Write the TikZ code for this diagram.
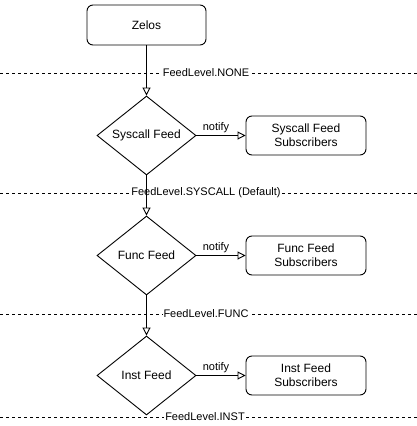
\documentclass[tikz,border=0pt]{standalone}
\usepackage{fontspec}
\setmainfont{Liberation Sans}
\usetikzlibrary{arrows.meta,shapes.geometric}
\begin{document}
\begin{tikzpicture}[x=1pt,y=-1pt,
  box/.style={draw,rounded corners=6pt,minimum width=119pt,minimum height=40pt,align=center,font=\fontsize{12}{14}\selectfont,inner sep=0pt,line width=0.9pt},
  sub/.style={box,minimum width=120pt,minimum height=39pt},
  dia/.style={draw,diamond,aspect=1.25,minimum width=99pt,minimum height=79pt,inner sep=0pt,font=\fontsize{12}{14}\selectfont,line width=0.9pt},
  flow/.style={-{Triangle[open,length=8pt,width=8pt]},line width=0.9pt},
  lvl/.style={dashed,dash pattern=on 3pt off 3pt,line width=0.9pt},
  lvllab/.style={fill=white,inner sep=1pt,font=\fontsize{11}{13}\selectfont},
  notelab/.style={font=\fontsize{11}{13}\selectfont,inner sep=1pt,xshift=-5pt,yshift=1pt}]
\useasboundingbox (0,0) rectangle (417,426);
\node[box] (zelos) at (146.5,25) {Zelos};
\node[dia] (sys) at (146.5,135.5) {Syscall Feed};
\node[dia] (func) at (146.5,255.5) {Func Feed};
\node[dia] (inst) at (146.5,375.5) {Inst Feed};
\node[sub] (syss) at (306,135.5) {Syscall Feed\\Subscribers};
\node[sub] (funcs) at (306,255.5) {Func Feed\\Subscribers};
\node[sub] (insts) at (306,375.5) {Inst Feed\\Subscribers};
\coordinate (l1a) at (0,73); \coordinate (l1b) at (417,73);
\coordinate (l2a) at (0,193); \coordinate (l2b) at (417,193);
\coordinate (l3a) at (0,314); \coordinate (l3b) at (417,314);
\coordinate (l4a) at (0,417); \coordinate (l4b) at (417,417);
\draw[lvl] (l1a) -- (l1b);
\draw[lvl] (l2a) -- (l2b);
\draw[lvl] (l3a) -- (l3b);
\draw[lvl] (l4a) -- (l4b);
\node[lvllab] (n1) at (206,73) {FeedLevel.NONE};
\node[lvllab] (n2) at (206,193) {FeedLevel.SYSCALL (Default)};
\node[lvllab] (n3) at (206,314) {FeedLevel.FUNC};
\node[lvllab] (n4) at (205,417) {FeedLevel.INST};
\draw[flow] (zelos) -- (sys);
\draw[flow] (sys) -- (func);
\draw[flow] (func) -- (inst);
\draw[flow] (sys) -- node[notelab,above] {notify} (syss);
\draw[flow] (func) -- node[notelab,above] {notify} (funcs);
\draw[flow] (inst) -- node[notelab,above] {notify} (insts);
\end{tikzpicture}
\end{document}
